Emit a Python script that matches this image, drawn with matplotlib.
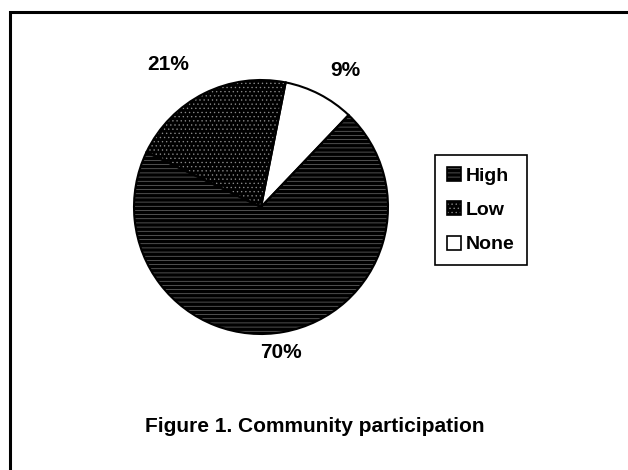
import matplotlib
matplotlib.use('Agg')
import matplotlib.pyplot as plt
from matplotlib.patches import Patch
from matplotlib.legend_handler import HandlerTuple

labels = ['High', 'Low', 'None']
shares = [70, 21, 9]
pct_text = ['70%', '21%', '9%']
face = ['black', 'black', 'white']
hatches = ['----', '....', '']
hatch_cols = ['#7a7a7a', '#8a8a8a', 'white']

W, H = 628, 470
plt.rcParams['hatch.linewidth'] = 0.45
fig = plt.figure(figsize=(W / 100, H / 100), dpi=100)
ax = fig.add_axes([0, 0, 1, 1])

cx, cy, r = 261, H - 207, 127
start = 46.4
kw = dict(center=(cx, cy), radius=r, startangle=start, counterclock=False)

# solid fill, then hatch on top, then black outline
wedges, _ = ax.pie(shares, colors=face, wedgeprops=dict(linewidth=0), **kw)
hw, _ = ax.pie(shares, wedgeprops=dict(linewidth=0), **kw)
for w, h, hc in zip(hw, hatches, hatch_cols):
    w.set_facecolor('none')
    w.set_edgecolor(hc)
    w.set_hatch(h)
ax.pie(shares, wedgeprops=dict(fill=False, edgecolor='black', linewidth=1.5), **kw)

ax.set_xlim(0, W)
ax.set_ylim(0, H)
ax.set_aspect('equal')
ax.axis('off')

bold = dict(fontsize=15, fontweight='bold', ha='center', va='center',
            family=['Liberation Sans', 'DejaVu Sans'])
label_pos = [(281, 353), (168, 65), (345, 70)]
for t, (x, y) in zip(pct_text, label_pos):
    ax.text(x, H - y, t, **bold)

ax.text(315, H - 427, 'Figure 1. Community participation', fontsize=15,
        fontweight='bold', ha='center', va='center',
        family=['Liberation Sans', 'DejaVu Sans'])

# cropped frame: only left and top edges show
ax.plot([10, 10, W], [0, H - 12, H - 12], color='black', lw=2.2,
        solid_joinstyle='miter', clip_on=False)

handles = []
for f, h, hc in zip(face, hatches, hatch_cols):
    base = Patch(facecolor=f, lw=0)
    hat = Patch(facecolor='none', edgecolor=hc, hatch=h, lw=0)
    edge = Patch(facecolor='none', edgecolor='black', lw=1.2)
    handles.append((base, hat, edge))
leg = fig.legend(handles, labels, loc='upper left',
                 bbox_to_anchor=(435 / W, 1 - 155 / H),
                 handler_map={tuple: HandlerTuple(ndivide=1, pad=0)},
                 prop=dict(family='Liberation Sans', weight='bold', size=14),
                 fancybox=False, framealpha=1, edgecolor='black',
                 handlelength=0.75, handleheight=0.75, handletextpad=0.25,
                 labelspacing=0.85, borderpad=0.6, borderaxespad=0)
leg.get_frame().set_linewidth(1.2)

fig.savefig('out.png', dpi=100)
